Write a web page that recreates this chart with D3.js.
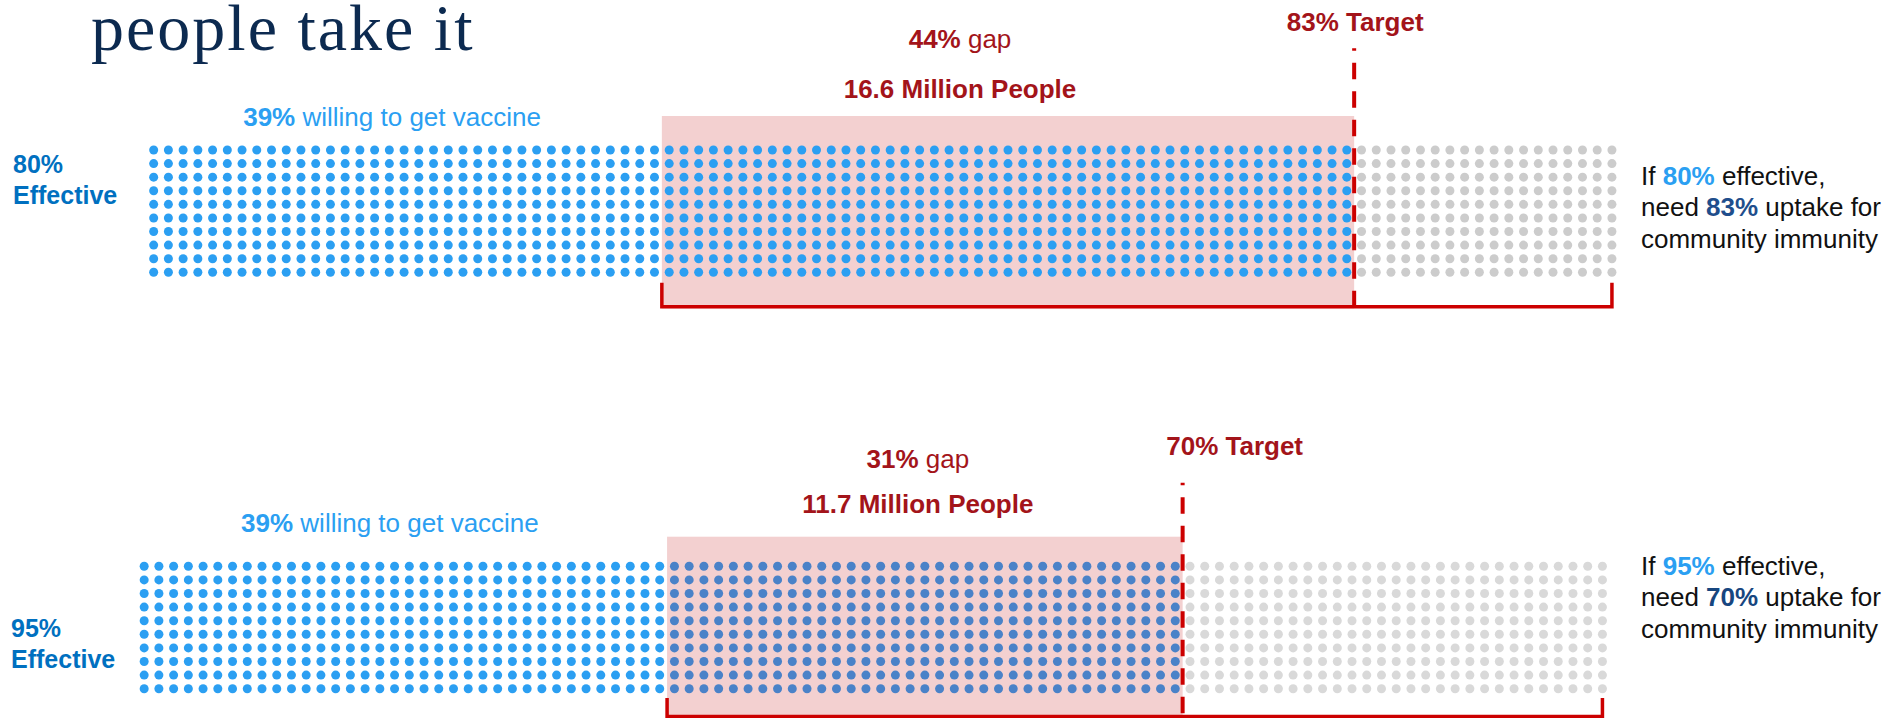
<!DOCTYPE html>
<html>
<head>
<meta charset="utf-8">
<script src="https://cdn.jsdelivr.net/npm/d3@7.9.0/dist/d3.min.js"></script>
<style>
  html, body { margin: 0; padding: 0; background: #fff; }
  svg { display: block; font-family: "Liberation Sans", Arial, sans-serif; }
</style>
</head>
<body>
<svg id="chart" width="1887" height="718"></svg>
<script>
// vaccine effectiveness scenarios
const effective  = ['80%', '95%'];
const willingPct = [39, 39];
const gapPct     = [44, 31];
const gapPeople  = [16.6, 11.7];   // million
const targetPct  = [83, 70];

// dot grid as drawn: 10 rows x 100 columns
const gridCols = 100;
const gridRows = 10;
const willingCols = [35, 36];      // columns left of the gap box
const targetCols  = [82, 71];      // columns up to the target line

// layout per panel (pixels)
const layout = [
  { gx: 146.3, dotTop: 150, dotBot: 272.3, rectTop: 116, bracketY: 306.7, tickTop: 282.7,
    dashTop: 48.3, targetY: 30.5, targetDx: 1, gapY: 48.3, peopleY: 98.3, gapDx: -48,
    willY: 126, effY: [172.7, 204], effX: 13, noteY: [185, 216, 247.5],
    gapDot: '#2b9ff2', gray: '#cccccc', noteColor: '#1f4e8c' },
  { gx: 136.8, dotTop: 566.3, dotBot: 688.7, rectTop: 536.7, bracketY: 716.5, tickTop: 698,
    dashTop: 482.7, targetY: 455, targetDx: 52, gapY: 468.3, peopleY: 512.7, gapDx: -7,
    willY: 531.5, effY: [636.7, 668.3], effX: 11, noteY: [575, 606, 637.5],
    gapDot: '#4a82c8', gray: '#d9d9d9', noteColor: '#17467f' }
];

const step = 14.73;
const red = '#cc0000', darkRed = '#a3141a', lightBlue = '#2b9ff2', midBlue = '#0070c0';

const svg = d3.select('#chart');

// title (second line of the slide heading)
svg.append('text')
  .attr('x', 91).attr('y', 50)
  .attr('font-family', '"Liberation Serif", "Times New Roman", serif')
  .attr('font-size', 66)
  .attr('letter-spacing', 2)
  .attr('fill', '#0c2a50')
  .text('people take it');

effective.forEach((eff, p) => {
  const L = layout[p];
  const g = svg.append('g');

  const x = d3.scaleLinear().domain([0, gridCols]).range([L.gx, L.gx + gridCols * step]);
  const y = d3.scalePoint().domain(d3.range(gridRows)).range([L.dotTop, L.dotBot]);

  const wc = willingCols[p], tc = targetCols[p];

  // gap box
  g.append('rect')
    .attr('x', x(wc)).attr('y', L.rectTop)
    .attr('width', x(tc) - x(wc))
    .attr('height', L.bracketY + 1.75 - L.rectTop)
    .attr('fill', '#f3d0d0');

  // dots
  const cells = d3.cross(d3.range(gridCols), d3.range(gridRows));
  g.selectAll('circle')
    .data(cells)
    .join('circle')
      .attr('cx', d => x(d[0] + 0.5))
      .attr('cy', d => y(d[1]))
      .attr('r', 4.5)
      .attr('fill', d => d[0] < wc ? lightBlue : d[0] < tc ? L.gapDot : L.gray);

  // bracket under the gap-to-100% range
  g.append('path')
    .attr('d', `M${x(wc)},${L.tickTop}V${L.bracketY}H${x(gridCols - 0.5)}V${L.tickTop}`)
    .attr('fill', 'none')
    .attr('stroke', red)
    .attr('stroke-width', 3.5);

  // target line
  g.append('line')
    .attr('x1', x(tc)).attr('x2', x(tc))
    .attr('y1', L.dashTop).attr('y2', L.bracketY)
    .attr('stroke', red)
    .attr('stroke-width', 4)
    .attr('stroke-dasharray', '16.5,12')
    .attr('stroke-dashoffset', 14);

  // target label
  g.append('text')
    .attr('x', x(tc) + L.targetDx).attr('y', L.targetY)
    .attr('text-anchor', 'middle')
    .attr('font-size', 26).attr('font-weight', 'bold')
    .attr('fill', darkRed)
    .text(`${targetPct[p]}% Target`);

  // gap labels
  const gx = x((wc + tc) / 2) + L.gapDx;
  const gapT = g.append('text')
    .attr('x', gx).attr('y', L.gapY)
    .attr('text-anchor', 'middle')
    .attr('font-size', 26)
    .attr('fill', darkRed);
  gapT.append('tspan').attr('font-weight', 'bold').text(`${gapPct[p]}%`);
  gapT.append('tspan').text(' gap');

  g.append('text')
    .attr('x', gx).attr('y', L.peopleY)
    .attr('text-anchor', 'middle')
    .attr('font-size', 26).attr('font-weight', 'bold')
    .attr('fill', darkRed)
    .text(`${gapPeople[p]} Million People`);

  // willing label
  const wT = g.append('text')
    .attr('x', x(wc / 2) - 12).attr('y', L.willY)
    .attr('text-anchor', 'middle')
    .attr('font-size', 26)
    .attr('fill', lightBlue);
  wT.append('tspan').attr('font-weight', 'bold').text(`${willingPct[p]}%`);
  wT.append('tspan').text(' willing to get vaccine');

  // left labels
  [eff, 'Effective'].forEach((t, i) => {
    g.append('text')
      .attr('x', L.effX).attr('y', L.effY[i])
      .attr('font-size', 25).attr('font-weight', 'bold')
      .attr('fill', midBlue)
      .text(t);
  });

  // right note
  const noteX = 1641;
  const n1 = g.append('text').attr('x', noteX).attr('y', L.noteY[0])
    .attr('font-size', 26).attr('fill', '#111');
  n1.append('tspan').text('If ');
  n1.append('tspan').attr('font-weight', 'bold').attr('fill', lightBlue).text(eff);
  n1.append('tspan').text(' effective,');

  const n2 = g.append('text').attr('x', noteX).attr('y', L.noteY[1])
    .attr('font-size', 26).attr('fill', '#111');
  n2.append('tspan').text('need ');
  n2.append('tspan').attr('font-weight', 'bold').attr('fill', L.noteColor).text(`${targetPct[p]}%`);
  n2.append('tspan').text(' uptake for');

  g.append('text').attr('x', noteX).attr('y', L.noteY[2])
    .attr('font-size', 26).attr('fill', '#111')
    .text('community immunity');
});
</script>
</body>
</html>
